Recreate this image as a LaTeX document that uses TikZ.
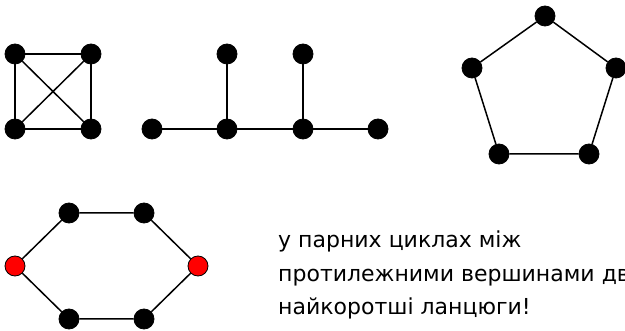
\documentclass[tikz,border=0pt]{standalone}
\usepackage{fontspec}
\setmainfont{DejaVu Sans}
\begin{document}
\begin{tikzpicture}[x=1pt,y=-1pt,
  vtx/.style={circle,fill=black,draw=black,line width=0.8pt,minimum size=20pt,inner sep=0pt},
  redvtx/.style={vtx,fill=red},
  edge/.style={line width=1.5pt},
  caption/.style={anchor=base west,inner sep=0pt,font=\fontsize{22}{26}\selectfont}]
\useasboundingbox (0,0) rectangle (625,331);

% complete graph on four vertices
\node[vtx] (a1) at (15,54) {};
\node[vtx] (a2) at (91,54) {};
\node[vtx] (a3) at (15,129) {};
\node[vtx] (a4) at (91,129) {};
\draw[edge] (a1) -- (a2) -- (a4) -- (a3) -- (a1);
\draw[edge] (a1) -- (a4) (a2) -- (a3);

% tree
\node[vtx] (t1) at (152,129) {};
\node[vtx] (t2) at (227,129) {};
\node[vtx] (t3) at (303,129) {};
\node[vtx] (t4) at (378,129) {};
\node[vtx] (t5) at (227,54) {};
\node[vtx] (t6) at (303,54) {};
\draw[edge] (t1) -- (t2) -- (t3) -- (t4) (t2) -- (t5) (t3) -- (t6);

% pentagon
\node[vtx] (p1) at (545,16) {};
\node[vtx] (p2) at (616,68) {};
\node[vtx] (p3) at (589,154) {};
\node[vtx] (p4) at (499,154) {};
\node[vtx] (p5) at (472,68) {};
\draw[edge] (p1) -- (p2) -- (p3) -- (p4) -- (p5) -- (p1);

% hexagon with opposite vertices marked
\node[vtx] (h1) at (69,213) {};
\node[vtx] (h2) at (144,213) {};
\node[redvtx] (h3) at (198,266) {};
\node[vtx] (h4) at (144,319) {};
\node[vtx] (h5) at (69,319) {};
\node[redvtx] (h6) at (15,266) {};
\draw[edge] (h1) -- (h2) -- (h3) -- (h4) -- (h5) -- (h6) -- (h1);

% caption
\node[caption] (c1) at (278,248) {у парних циклах між};
\node[caption] (c2) at (278,282) {протилежними вершинами два};
\node[caption] (c3) at (278,315) {найкоротші ланцюги!};
\end{tikzpicture}
\end{document}
